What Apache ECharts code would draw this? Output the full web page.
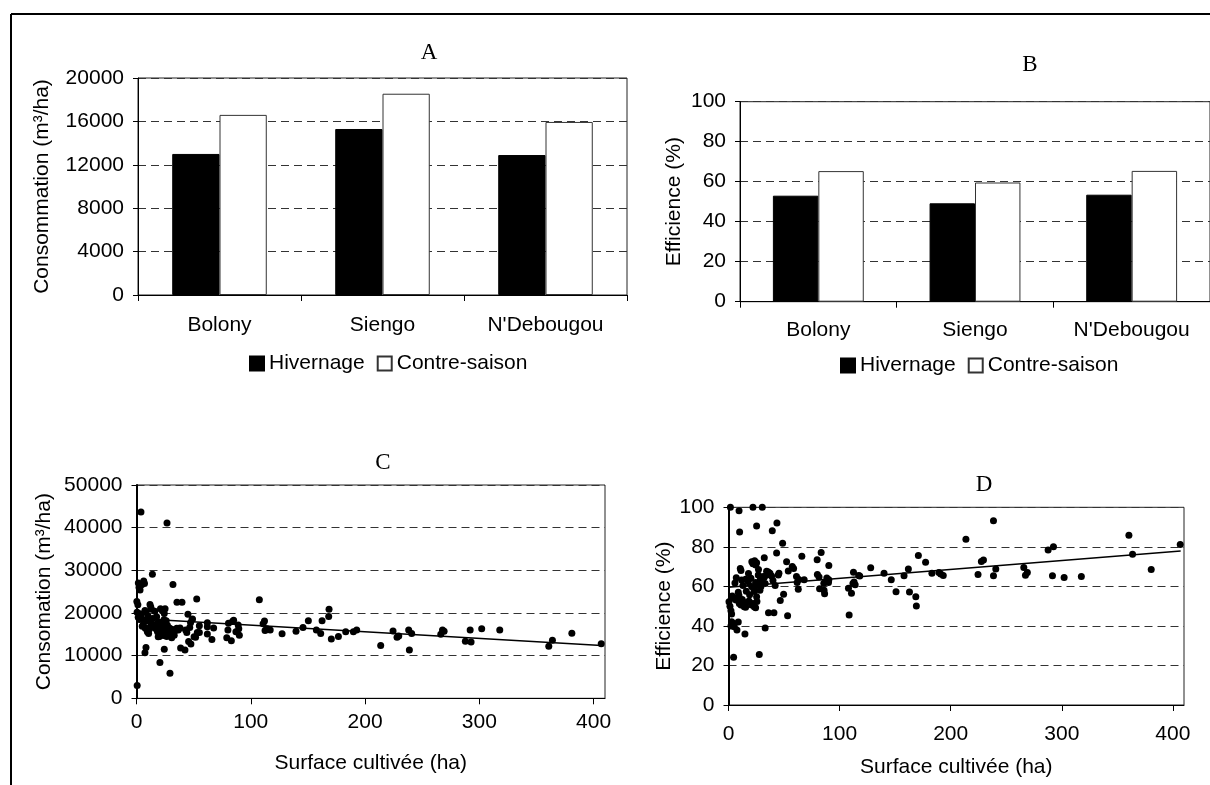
<!DOCTYPE html>
<html><head><meta charset="utf-8">
<script src="https://cdn.jsdelivr.net/npm/echarts@6/dist/echarts.min.js"></script>
<style>html,body{margin:0;padding:0;background:#fff}#c{width:1210px;height:785px}</style>
</head><body><div id="c"></div>
<script>
// ---------- data ----------
const sites = ['Bolony', 'Siengo', "N'Debougou"];
const seriesNames = ['Hivernage', 'Contre-saison'];
const consoHivernage = [13000, 15300, 12900];
const consoContreSaison = [16600, 18550, 15950];
const effHivernage = [53, 49.2, 53.5];
const effContreSaison = [65.3, 59.6, 65.4];

const consoTicks = [0, 4000, 8000, 12000, 16000, 20000];
const effTicks = [0, 20, 40, 60, 80, 100];
const consoScatterTicks = [0, 10000, 20000, 30000, 40000, 50000];
const surfaceTicks = [0, 100, 200, 300, 400];
const surfaceMax = 410;

// Panel C: [surface (ha), consommation (m3/ha)]
const consoPoints = [
  [0.6,3000],[3.9,43700],[1.6,27000],[2.2,26000],[3.1,25400],[4.5,26600],[6.3,27500],[7,26900],[13.9,29100],
  [0.3,22700],[1.2,21900],[0.5,20200],[1.5,19000],[2.5,18500],[4,19500],[5.8,18400],[7.4,20600],[8.3,20200],
  [9.3,18200],[11.8,22000],[12.5,21400],[13,20900],[14,18700],[6,17300],[7.7,16400],[9.5,15600],[10.6,15200],
  [12,16800],[13.5,17500],[7.4,10700],[8.3,11900],[3,19800],[5,16900],[10,19300],[11,16100],
  [14.9,17200],[16.3,16400],[17.6,19100],[18.4,15600],[19,17900],[20.7,15200],[20.7,17300],[21,21000],[22,17700],
  [22.6,20500],[23,15800],[23.6,17100],[24.3,19900],[25,21000],[26,18200],[27,17100],[28.8,16500],[20,14500],
  [23.5,14700],[26.5,14500],[20.5,8400],[24.3,11500],[26.7,41100],[29.3,5900],[16,20400],[18,16000],[19,14400],
  [21.5,16700],[24,18400],[25.5,16300],[27.5,15300],[29,15900],
  [30.8,16200],[30.8,14200],[31.9,26700],[33.7,16000],[35.2,16400],[35.4,22500],[36.6,16000],[38.1,16500],
  [38.6,11800],[39.8,22500],[42.4,11300],[43,16000],[44,15400],[45,19700],[45.6,13300],[46.6,16600],[47.3,17700],
  [47.6,12700],[48.6,18500],[49,18600],[50.4,14400],[51.7,14300],[52.7,23300],[53.2,15400],[55,17000],[55,15400],
  [31.5,15700],[33,14800],[34,15900],
  [62,17700],[62,16800],[62,15100],[66,13800],[67.5,16500],[79,14200],[80,16000],[80.5,17600],[83,13500],
  [84,18000],[85,18300],[87,15600],[89,17200],[89.5,16300],[90,14800],[107.5,23100],[110.8,17500],[112,18100],
  [112.5,15900],[114,16300],[117,16000],
  [127.4,15150],[139.6,15700],[145.7,16600],[150.4,18200],[157.4,16000],[161.2,15200],[162.4,18200],[168.2,19200],
  [168.5,20900],[170.5,13900],[176.7,14500],[183.1,15600],[189.8,15600],[192.7,16000],[213.7,12400],[224.5,15800],
  [228,14300],[229.5,14600],[238.2,16000],[240.8,15200],[238.8,11300],[266.3,15000],[267.8,16000],[269.2,15700],
  [287.8,13400],[292,16000],[292.8,13200],[302.1,16300],[317.9,16000],[360.8,12200],[364,13600],[381,15250],
  [406.7,12800]
];
const consoTrend = [[0, 18700], [407, 12350]];

// Panel D: [surface (ha), efficience (%)]
const effPoints = [
  [1.7,100],[9.5,98.3],[22,100],[30.4,100],[43.6,92],[25.3,90.6],[10,87.5],[39.4,88.2],[48.7,81.8],[43.3,76.9],
  [22,71.5],[23.5,73],[24.5,70.8],[25.3,72],[32.2,74.5],[52.3,72.5],[10.6,69.1],[11.2,68],[5.8,61.7],[7,64.4],
  [8.8,57],[9.4,55.4],[4.6,24.1],[27.7,25.5],[14.8,35.9],[33,39],[36,46.6],[40.9,46.6],
  [46.6,52.8],[49.6,56],[53.2,45.1],[53.8,67.8],[57.4,70],[58.6,69],[61.2,65],[61.8,62],[63.3,63.5],[66,75.2],
  [68.1,63.3],[62.8,58.5],[79.8,73.5],[83.4,77.1],[80,66],[81.5,64.8],[82,58.8],[86,58],[86.5,56.3],[90.3,70.5],
  [90.3,63.4],[90,62],[88.5,64.3],[85.8,61.6],[108.6,45.5],[108,59],[110.7,56.5],[112,61.5],[112.5,67.2],[113,62.2],
  [114,60.8],[117.2,65.5],
  [11.8,63.2],[15.4,63.6],[17.8,62.4],[20.2,64.1],[20.8,59.9],[22.6,59.1],[23.2,57.4],[24.4,62],[26.8,65.8],
  [28.6,63.3],[29.8,64.1],[31.3,65],[32.2,64.6],[34.3,65.8],[34.3,67.6],[35.8,67.3],[36.4,66.3],[37.3,66.6],
  [38.8,65.3],[44.8,65.8],[45.4,66.6],
  [3.4,55.1],[5.2,53.9],[6.7,53.1],[8.2,54.4],[9.7,51.4],[11.2,50.6],[12.4,53.4],[13.3,51.4],[14.2,49.7],[15.4,49.4],
  [16.6,51.9],[18.4,52.6],[20.8,50.6],[22,51.4],[23.2,49.7],[24.4,49.2],[25.6,52.3],
  [0.45,52.2],[1.3,50],[2.2,47.7],[2.8,46],[2.8,42.1],[4,41.3],[5.2,39.6],[7.6,37.9],[2.2,40],[8.8,42],
  [28.3,58],[29.2,59.9],[25.3,54.8],[13,60.5],[16,57.5],[19,55.8],[26,60.8],[30,62.7],[33,61.5],[40,63],[42,60.5],
  [18,66.5],[27,68.5],[21,72.5],
  [118.1,65.2],[128,69.4],[140,66.6],[146.5,63.3],[150.8,57.3],[158,65.4],[161.9,68.8],[162.9,57.2],[168.6,54.8],
  [169.1,50.1],[170.9,75.6],[177.4,72.2],[183.1,66.6],[189.4,67],[191,66.2],[193.3,65.5],[213.7,83.9],[224.6,66],
  [227.6,72.6],[229.5,73.4],[238.5,93.2],[240.6,68.8],[238.5,65.4],[265.8,69.6],[267.3,65.6],[269,67],
  [287.7,78.4],[292.5,80.1],[291.6,65.4],[302.1,64.5],[317.6,65],[360.4,85.8],[363.7,76.3],[380.5,68.6],[406.6,81.2]
];
const effTrend = [[0, 59.5], [407, 77.9]];

// ---------- styling helpers ----------
const SANS = 'Liberation Sans, Arial, sans-serif';
const SERIF = 'Liberation Serif, Times New Roman, serif';
const FS = 21;
const txt = {color: '#000', fontFamily: SANS, fontSize: FS};
const dashed = {show: true, lineStyle: {color: '#333', width: 1, type: [8, 5]}};
const plain = v => String(v);

function valueY(ticks, gridIndex, name, nameGap, axisWidth) {
  return {
    type: 'value', gridIndex, min: ticks[0], max: ticks[ticks.length - 1],
    interval: ticks[1] - ticks[0],
    name, nameLocation: 'middle', nameGap, nameRotate: 90,
    nameTextStyle: txt,
    axisLine: {show: true, lineStyle: {color: '#000', width: axisWidth}},
    axisTick: {show: true, length: 5, lineStyle: {color: '#000'}},
    axisLabel: Object.assign({margin: 14, formatter: plain}, txt),
    splitLine: dashed
  };
}
function categoryX(gridIndex, margin) {
  return {
    type: 'category', gridIndex, data: sites,
    axisLine: {show: true, lineStyle: {color: '#000', width: 1}},
    axisTick: {show: true, length: 6, lineStyle: {color: '#000'}},
    axisLabel: Object.assign({margin}, txt),
    splitLine: {show: false}
  };
}
function surfaceX(gridIndex, margin, nameGap) {
  return {
    type: 'value', gridIndex, min: surfaceTicks[0], max: surfaceMax,
    interval: surfaceTicks[1] - surfaceTicks[0],
    name: 'Surface cultivée (ha)', nameLocation: 'middle', nameGap,
    nameTextStyle: txt,
    axisLine: {show: true, onZero: false, lineStyle: {color: '#000', width: 1}},
    axisTick: {show: true, length: 6, lineStyle: {color: '#000'}, customValues: surfaceTicks},
    axisLabel: Object.assign({margin, customValues: surfaceTicks, formatter: plain}, txt),
    splitLine: {show: false}
  };
}
function legendAt(left, top) {
  return {
    data: seriesNames, left, top, itemWidth: 14, itemHeight: 14, itemGap: 12,
    icon: 'rect', textStyle: txt, selectedMode: false, padding: 0
  };
}
const frame = {show: true, borderColor: '#222', borderWidth: 1, backgroundColor: 'transparent'};
const titleStyle = {fontFamily: SERIF, fontSize: 23, fontWeight: 'normal', color: '#000'};

const option = {
  backgroundColor: '#fff',
  animation: false,
  title: [
    {text: 'A', left: 424, top: 36, textAlign: 'center', textStyle: titleStyle},
    {text: 'B', left: 1025, top: 48, textAlign: 'center', textStyle: titleStyle},
    {text: 'C', left: 378, top: 446, textAlign: 'center', textStyle: titleStyle},
    {text: 'D', left: 979, top: 468, textAlign: 'center', textStyle: titleStyle}
  ],
  legend: [legendAt(249, 353), legendAt(840, 355)],
  grid: [
    Object.assign({left: 138, top: 78, width: 489, height: 217}, frame),
    Object.assign({left: 740, top: 101.7, width: 472, height: 200}, frame),
    Object.assign({left: 136.5, top: 485, width: 468.5, height: 213.3}, frame),
    Object.assign({left: 728.5, top: 507.3, width: 455.5, height: 197.7}, frame)
  ],
  xAxis: [categoryX(0, 20), categoryX(1, 18), surfaceX(2, 13, 54), surfaceX(3, 19, 52)],
  yAxis: [
    valueY(consoTicks, 0, 'Consommation (m³/ha)', 85, 1),
    valueY(effTicks, 1, 'Efficience (%)', 55, 1),
    valueY(consoScatterTicks, 2, 'Consomation (m³/ha)', 82, 2),
    valueY(effTicks, 3, 'Efficience (%)', 54, 2)
  ],
  series: [
    {name: 'Hivernage', type: 'bar', xAxisIndex: 0, yAxisIndex: 0, data: consoHivernage,
      barGap: '0%', barCategoryGap: '42%', itemStyle: {color: '#000', borderColor: '#000', borderWidth: 1}},
    {name: 'Contre-saison', type: 'bar', xAxisIndex: 0, yAxisIndex: 0, data: consoContreSaison,
      barGap: '0%', barCategoryGap: '42%', itemStyle: {color: '#fff', borderColor: '#333', borderWidth: 1}},
    {name: 'Hivernage', type: 'bar', xAxisIndex: 1, yAxisIndex: 1, data: effHivernage,
      barGap: '0%', barCategoryGap: '42%', itemStyle: {color: '#000', borderColor: '#000', borderWidth: 1}},
    {name: 'Contre-saison', type: 'bar', xAxisIndex: 1, yAxisIndex: 1, data: effContreSaison,
      barGap: '0%', barCategoryGap: '42%', itemStyle: {color: '#fff', borderColor: '#333', borderWidth: 1}},
    {name: 'Consommation', type: 'scatter', xAxisIndex: 2, yAxisIndex: 2, data: consoPoints,
      symbolSize: 7, itemStyle: {color: '#000', opacity: 1}},
    {name: 'Tendance C', type: 'line', xAxisIndex: 2, yAxisIndex: 2, data: consoTrend,
      showSymbol: false, lineStyle: {color: '#000', width: 1.5}},
    {name: 'Efficience', type: 'scatter', xAxisIndex: 3, yAxisIndex: 3, data: effPoints,
      symbolSize: 7, itemStyle: {color: '#000', opacity: 1}},
    {name: 'Tendance D', type: 'line', xAxisIndex: 3, yAxisIndex: 3, data: effTrend,
      showSymbol: false, lineStyle: {color: '#000', width: 1.5}}
  ],
  graphic: [
    {type: 'line', shape: {x1: 11, y1: 14, x2: 1210, y2: 14}, style: {stroke: '#000', lineWidth: 2}, silent: true},
    {type: 'line', shape: {x1: 11, y1: 14, x2: 11, y2: 785}, style: {stroke: '#000', lineWidth: 2}, silent: true}
  ]
};
const chart = echarts.init(document.getElementById('c'), null, {renderer: 'canvas'});
chart.setOption(option);
</script>
</body></html>
